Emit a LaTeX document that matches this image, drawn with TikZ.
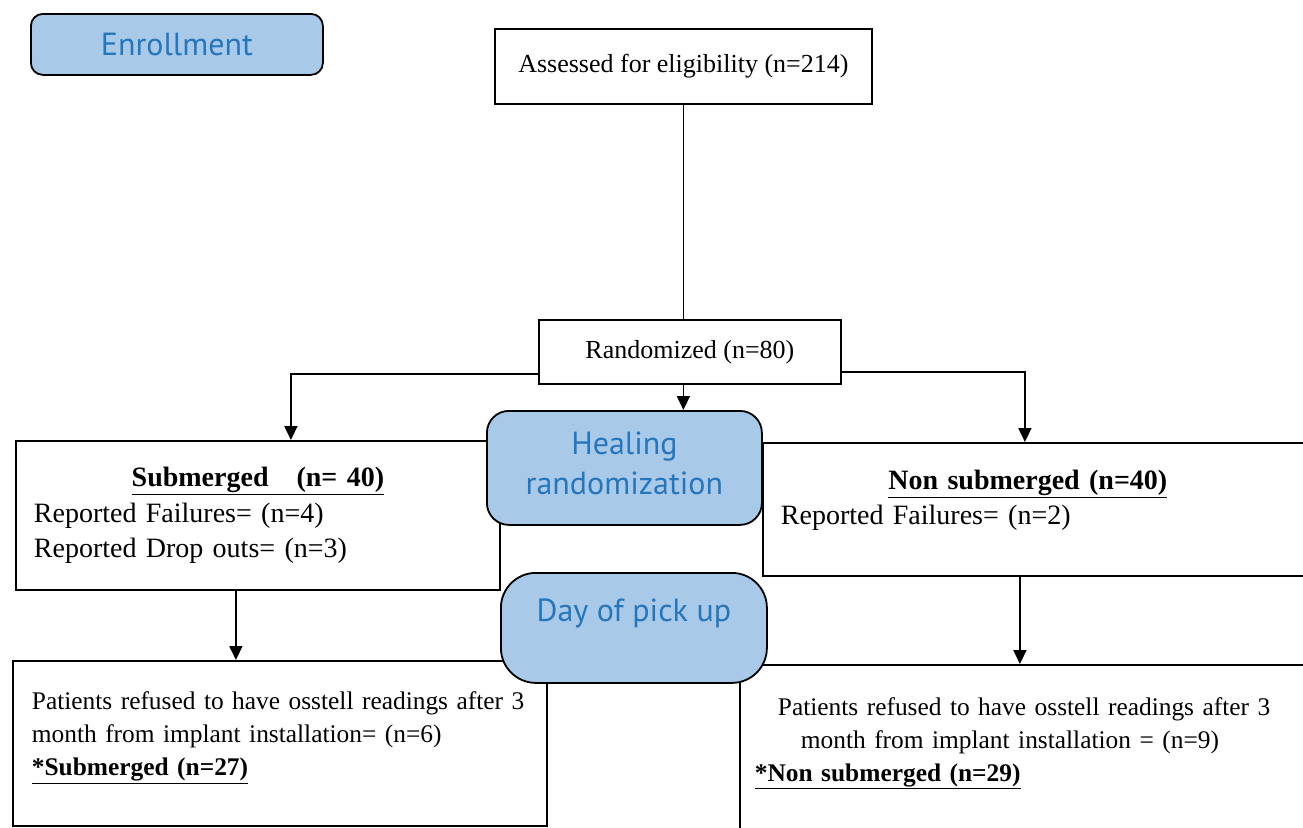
\documentclass[tikz,border=0pt]{standalone}
\usepackage{fontspec}
\setmainfont{Liberation Serif}
\newfontfamily\labelfont{PT Sans}
\usetikzlibrary{arrows.meta,positioning}
\definecolor{stageblue}{RGB}{169,201,233}
\definecolor{stagetext}{RGB}{38,118,188}
\setlength{\parindent}{0pt}

\begin{document}
\begin{tikzpicture}[x=1pt,y=-1pt,
        plainbox/.style={draw,line width=1.8pt,fill=white,anchor=north west,inner ysep=0pt,font=\fontsize{25.4}{33}\selectfont},
        stage/.style={draw,line width=1.8pt,fill=stageblue,anchor=north west,inner sep=0pt,align=center,text=stagetext,font=\labelfont\fontsize{32}{40}\selectfont},
        link/.style={line width=1.8pt},
        flow/.style={link,-{Triangle[length=14pt,width=13pt]}}]
        \useasboundingbox (0,0) rectangle (1303,827);

        % boxes of the flow
        \node[plainbox,inner xsep=0pt,minimum width=377pt,minimum height=75pt,font=\fontsize{26}{33}\selectfont](assess)at(494,28){Assessed for eligibility (n=214)};
        \node[plainbox,inner xsep=0pt,minimum width=302pt,minimum height=64pt,font=\fontsize{26}{33}\selectfont](rand)at(538,319){Randomized (n=80)};
        \node[plainbox,inner xsep=18pt,text width=448pt,minimum height=149pt,align=left,font=\fontsize{28}{35.5}\selectfont](sub)at(15,440)
            {\makebox[448pt]{\bfseries\underline{Submerged\ \ \ (n=\ 40)}}\\Reported Failures= (n=4)\\Reported Drop outs= (n=3)};
        \node[plainbox,inner xsep=18pt,text width=540pt,minimum height=133pt,align=left,font=\fontsize{28}{35.5}\selectfont](nonsub)at(762,442)
            {\makebox[494pt]{\bfseries\underline{Non submerged (n=40)}}\\Reported Failures= (n=2)\rule[-24pt]{0pt}{24pt}};
        \node[plainbox,inner xsep=19pt,text width=496pt,minimum height=165pt,align=left](leftgroup)at(12,660)
            {\mbox{Patients refused to have osstell readings after 3}\\month from implant installation= (n=6)\\\textbf{\underline{*Submerged (n=27)}}\rule[-19pt]{0pt}{19pt}};
        \node[plainbox,inner xsep=15pt,text width=560pt,minimum height=180pt,align=left](rightgroup)at(739,664)
            {\hspace*{23pt}Patients refused to have osstell readings after 3\\\hspace*{46pt}month from implant installation = (n=9)\\\textbf{\underline{*Non submerged (n=29)}}\rule[-31pt]{0pt}{31pt}};

        % stage labels
        \node[stage,minimum width=292pt,minimum height=61pt,rounded corners=12pt](enroll)at(30,13){Enrollment};
        \node[stage,minimum width=275pt,minimum height=114pt,rounded corners=22pt](heal)at(486,410){Healing\\randomization\rule[-9pt]{0pt}{9pt}};
        \node[stage,minimum width=266pt,minimum height=110pt,rounded corners=35pt](pickup)at(500,572){Day of pick up\rule[-35pt]{0pt}{35pt}};

        % connectors
        \draw[link](assess.south)--(assess.south |- rand.north);
        \draw[flow](assess.south |- rand.south)--(assess.south |- heal.north);
        \draw[flow]([yshift=-22pt]rand.west)-|([xshift=33pt]sub.north);
        \draw[flow]([yshift=-20pt]rand.east)-|([xshift=-26pt]nonsub.north);
        \draw[flow]([xshift=-22pt]sub.south)--([xshift=-22pt]sub.south |- leftgroup.north);
        \draw[flow]([xshift=-31pt]nonsub.south)--([xshift=-31pt]nonsub.south |- rightgroup.north);
    \end{tikzpicture}
\end{document}
